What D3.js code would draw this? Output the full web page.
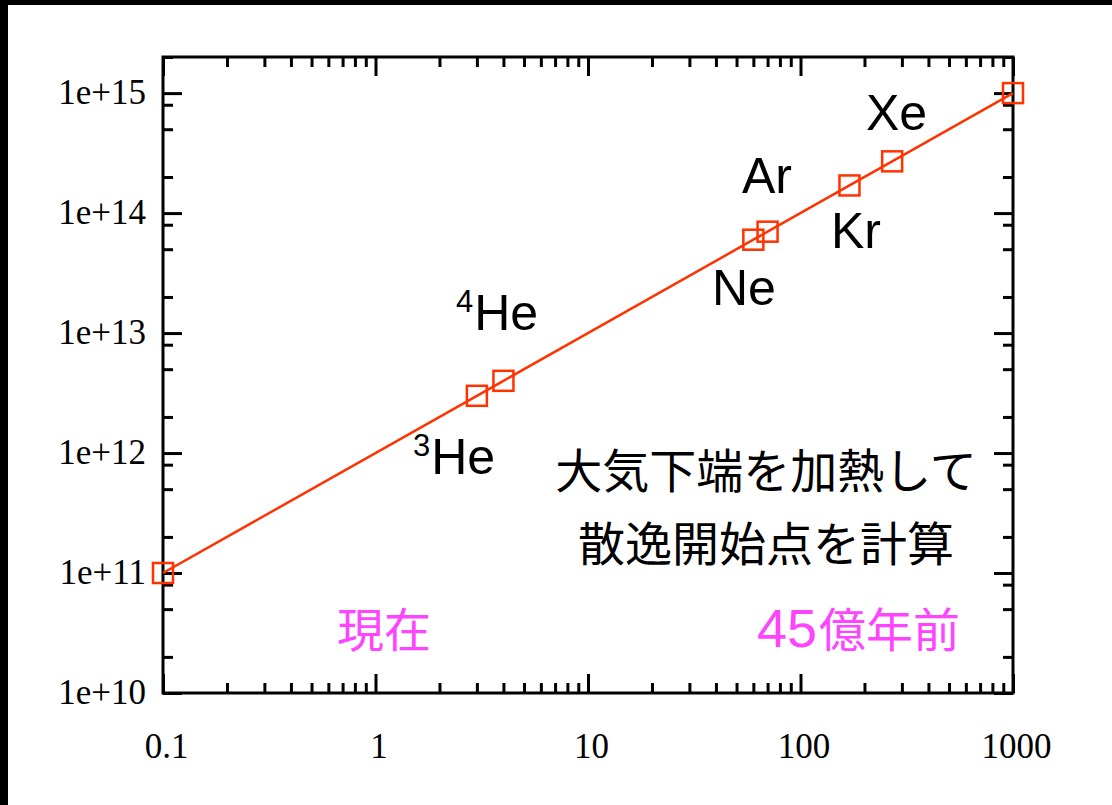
<!DOCTYPE html>
<html>
<head>
<meta charset="utf-8">
<script src="https://cdn.jsdelivr.net/npm/d3@7"></script>
<style>
  html, body { margin: 0; padding: 0; background: #fff; }
  svg { display: block; }
</style>
</head>
<body>
<svg id="chart" width="1112" height="805"></svg>
<script>
// Escape-onset values for each species (x vs y, both logarithmic)
const species = ["start", "3He", "4He", "Ne", "Ar", "Kr", "Xe", "end"];
const xValues = [0.1, 3, 4, 60, 70, 170, 270, 1000];
const yValues = [1e11, 3e12, 4e12, 6e13, 7e13, 1.7e14, 2.7e14, 1e15];

const xTickValues = [0.1, 1, 10, 100, 1000];
const xTickLabels = ["0.1", "1", "10", "100", "1000"];
const yTickValues = [1e10, 1e11, 1e12, 1e13, 1e14, 1e15];
const yTickLabels = ["1e+10", "1e+11", "1e+12", "1e+13", "1e+14", "1e+15"];

// Element labels placed beside the points
const elementLabels = [
  { sup: "", text: "Xe", x: 866, y: 130 },
  { sup: "", text: "Ar", x: 742, y: 193 },
  { sup: "", text: "Kr", x: 831, y: 248 },
  { sup: "", text: "Ne", x: 712, y: 305 },
  { sup: "4", text: "He", x: 456, y: 330 },
  { sup: "3", text: "He", x: 413, y: 474 }
];
const noteLines = ["大気下端を加熱して", "散逸開始点を計算"];
const timeLabels = [
  { num: "", text: "現在", x: 337 },
  { num: "45", text: "億年前", x: 757 }
];

const svg = d3.select("#chart");
const margin = { left: 163, right: 1013, top: 57, bottom: 693 };
const lineColor = "#ff3300";

const x = d3.scaleLog().domain([0.1, 1000]).range([margin.left, margin.right]);
const y = d3.scaleLog().domain([1e10, 2e15]).range([margin.bottom, margin.top]);

// frame of the picture
svg.append("rect").attr("x", 0).attr("y", 0).attr("width", 1112).attr("height", 5).attr("fill", "#000");
svg.append("rect").attr("x", 0).attr("y", 0).attr("width", 8).attr("height", 805).attr("fill", "#000");

// minor tick positions
const xMinor = [];
[0.1, 1, 10, 100].forEach(d => { for (let k = 2; k <= 9; k++) xMinor.push(d * k); });
const yMinor = [];
[1e10, 1e11, 1e12, 1e13, 1e14, 1e15].forEach(d => {
  [2, 5, 8].forEach(k => { if (d * k <= 2e15) yMinor.push(d * k); });
});

function styleAxis(g) {
  g.select(".domain").remove();
  g.selectAll(".tick line").attr("stroke", "#000").attr("stroke-width", 3);
}

const majorLen = 19, minorLen = 10;

// bottom
svg.append("g").attr("transform", `translate(0,${margin.bottom})`)
  .call(d3.axisBottom(x).tickValues(xMinor).tickSize(-minorLen).tickFormat(""))
  .call(styleAxis);
const xb = svg.append("g").attr("transform", `translate(0,${margin.bottom})`)
  .call(d3.axisBottom(x).tickValues(xTickValues).tickSize(-majorLen)
    .tickFormat((d, i) => xTickLabels[i]))
  .call(styleAxis);
xb.selectAll(".tick text")
  .attr("y", 65).attr("dy", 0).attr("dx", 3)
  .attr("font-family", "'Liberation Serif', 'Times New Roman', serif")
  .attr("font-size", 35).attr("fill", "#000");

// top
svg.append("g").attr("transform", `translate(0,${margin.top})`)
  .call(d3.axisTop(x).tickValues(xMinor).tickSize(-minorLen).tickFormat(""))
  .call(styleAxis);
svg.append("g").attr("transform", `translate(0,${margin.top})`)
  .call(d3.axisTop(x).tickValues(xTickValues).tickSize(-majorLen).tickFormat(""))
  .call(styleAxis);

// left
svg.append("g").attr("transform", `translate(${margin.left},0)`)
  .call(d3.axisLeft(y).tickValues(yMinor).tickSize(-minorLen).tickFormat(""))
  .call(styleAxis);
const yl = svg.append("g").attr("transform", `translate(${margin.left},0)`)
  .call(d3.axisLeft(y).tickValues(yTickValues).tickSize(-majorLen)
    .tickFormat((d, i) => yTickLabels[i]))
  .call(styleAxis);
yl.selectAll(".tick text")
  .attr("x", -17).attr("dy", 10)
  .attr("font-family", "'Liberation Serif', 'Times New Roman', serif")
  .attr("font-size", 35).attr("fill", "#000");

// right
svg.append("g").attr("transform", `translate(${margin.right},0)`)
  .call(d3.axisRight(y).tickValues(yMinor).tickSize(-minorLen).tickFormat(""))
  .call(styleAxis);
svg.append("g").attr("transform", `translate(${margin.right},0)`)
  .call(d3.axisRight(y).tickValues(yTickValues).tickSize(-majorLen).tickFormat(""))
  .call(styleAxis);

// plot border
svg.append("rect")
  .attr("x", margin.left).attr("y", margin.top)
  .attr("width", margin.right - margin.left).attr("height", margin.bottom - margin.top)
  .attr("fill", "none").attr("stroke", "#000").attr("stroke-width", 3);

// series line and square markers
const pts = xValues.map((v, i) => ({ x: v, y: yValues[i], name: species[i] }));
svg.append("path")
  .datum(pts)
  .attr("fill", "none").attr("stroke", lineColor).attr("stroke-width", 2.5)
  .attr("d", d3.line().x(d => x(d.x)).y(d => y(d.y)));

const sq = 20;
svg.append("g").selectAll("rect").data(pts).join("rect")
  .attr("x", d => x(d.x) - sq / 2).attr("y", d => y(d.y) - sq / 2)
  .attr("width", sq).attr("height", sq)
  .attr("fill", "none").attr("stroke", lineColor).attr("stroke-width", 2.5);

// element names
const sans = "'Liberation Sans', Arial, Helvetica, sans-serif";
elementLabels.forEach(l => {
  const t = svg.append("text")
    .attr("x", l.x).attr("y", l.y)
    .attr("font-family", sans).attr("font-size", 50).attr("fill", "#000");
  if (l.sup) {
    t.append("tspan").attr("font-size", 31).attr("dy", -18).text(l.sup);
    t.append("tspan").attr("dy", 18).attr("dx", 1).text(l.text);
  } else {
    t.text(l.text);
  }
});

// note text
const cjk = "'Noto Sans CJK JP', 'Noto Sans', sans-serif";
noteLines.forEach((s, i) => {
  svg.append("text")
    .attr("x", 766).attr("y", 488 + i * 73)
    .attr("text-anchor", "middle")
    .attr("font-family", cjk).attr("font-size", 47).attr("fill", "#000")
    .text(s);
});

// time-direction labels
timeLabels.forEach(l => {
  const t = svg.append("text")
    .attr("x", l.x).attr("y", 647)
    .attr("font-family", cjk).attr("font-size", 47).attr("fill", "#ff44ff");
  if (l.num) {
    t.append("tspan").attr("font-family", sans).attr("font-size", 54).text(l.num);
  }
  t.append("tspan").attr("dx", l.num ? 2 : 0).text(l.text);
});
</script>
</body>
</html>
